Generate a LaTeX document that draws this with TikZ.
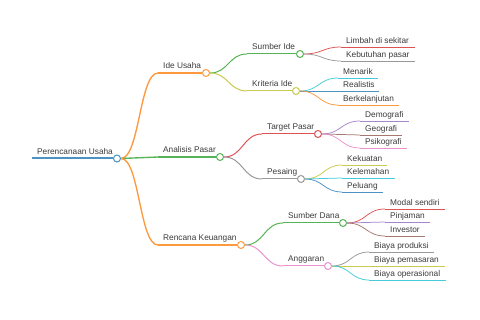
\documentclass[tikz,border=0pt]{standalone}
\usepackage{fontspec}
\setmainfont{Liberation Sans}
\usetikzlibrary{calc}

\begin{document}
\begin{tikzpicture}[
    x=1pt, y=-1pt,
    every node/.style={font=\fontsize{8.3}{10}\selectfont},
]

% ---------------------------------------------------------------- colours
\definecolor{cblue}{HTML}{4C92C3}
\definecolor{corange}{HTML}{FF993E}
\definecolor{cgreen}{HTML}{56B356}
\definecolor{cred}{HTML}{DE5253}
\definecolor{cpurple}{HTML}{A985CA}
\definecolor{cbrown}{HTML}{A3786F}
\definecolor{cpink}{HTML}{E992CE}
\definecolor{cgrey}{HTML}{999999}
\definecolor{colive}{HTML}{C9CA4E}
\definecolor{ccyan}{HTML}{45CBD9}
\definecolor{textcolor}{HTML}{3A3A3A}

% ---------------------------------------------------------------- styles
\tikzset{
    txt/.style={anchor=base west, inner sep=0pt, text=textcolor},
    hub/.style={
        circle, minimum size=7pt, inner sep=0pt,
        draw, fill=white, line width=1pt,
    },
}

% picture is 480 x 320, one unit per pixel, y going down
\useasboundingbox (0,0) rectangle (480,320);

% ---------------------------------------------------------------- the root
\coordinate (root-s) at (32,158.5);
\node[hub, draw=cblue] (root) at (117,158.5) {};
\node[txt] (root-t) at (37,155) {Perencanaan Usaha};
\draw[cblue, line width=2pt] (root-s) -- (root.west);

% ---------------------------------------------------------------- first level
\foreach \n/\t/\y/\c/\col in {ide/Ide Usaha/73/206/corange,
                              analisis/Analisis Pasar/157/220/cgreen,
                              rencana/Rencana Keuangan/245/241/corange} {
    \coordinate (\n-s) at (158,\y);
    \node[hub, draw=\col] (\n) at (\c,\y) {};
    \node[txt] (\n-t) at (163,\y-4) {\t};
    \draw[\col, line width=1.35pt] (\n-s) -- (\n.west);
    \coordinate (\n-m) at ($(root.east)!0.5!(\n-s)$);
    \draw[\col, line width=1.35pt] (root.east)
        .. controls (\n-m |- root.east) and (\n-m |- \n-s) .. (\n-s);
}

% ---------------------------------------------------------------- second level
\foreach \p/\n/\t/\x/\y/\c/\col in {
        ide/sumberide/Sumber Ide/247/54/300/cgreen,
        ide/kriteria/Kriteria Ide/247/91/296/colive,
        analisis/target/Target Pasar/262/134/318/cred,
        analisis/pesaing/Pesaing/262/179/301/cgrey,
        rencana/sumberdana/Sumber Dana/283/223/343/cgreen,
        rencana/anggaran/Anggaran/283/266/328/cpink} {
    \coordinate (\n-s) at (\x,\y);
    \node[hub, draw=\col] (\n) at (\c,\y) {};
    \node[txt] (\n-t) at (\x+5,\y-4) {\t};
    \draw[\col, line width=1pt] (\n-s) -- (\n.west);
    \coordinate (\n-m) at ($(\p.east)!0.5!(\n-s)$);
    \draw[\col, line width=1pt] (\p.east)
        .. controls (\n-m |- \p.east) and (\n-m |- \n-s) .. (\n-s);
}

% ---------------------------------------------------------------- the leaves
\foreach \p/\n/\t/\x/\y/\e/\col in {
        sumberide/limbah/Limbah di sekitar/341/47/415/cred,
        sumberide/kebutuhan/Kebutuhan pasar/341/61/415/cgrey,
        kriteria/menarik/Menarik/338/78/378/ccyan,
        kriteria/realistis/Realistis/338/91/379/cblue,
        kriteria/berlanjut/Berkelanjutan/338/105/399/corange,
        target/demografi/Demografi/360/121/409/cpurple,
        target/geografi/Geografi/360/135/402/cbrown,
        target/psikografi/Psikografi/360/148/407/cpink,
        pesaing/kekuatan/Kekuatan/342/165/387/colive,
        pesaing/kelemahan/Kelemahan/342/178/395/ccyan,
        pesaing/peluang/Peluang/342/192/383/cblue,
        sumberdana/modal/Modal sendiri/385/209/445/cred,
        sumberdana/pinjaman/Pinjaman/385/222/430/cpurple,
        sumberdana/investor/Investor/385/236/425/cbrown,
        anggaran/produksi/Biaya produksi/369/252/434/cgrey,
        anggaran/pemasaran/Biaya pemasaran/369/266/445/colive,
        anggaran/operasional/Biaya operasional/369/280/446/ccyan} {
    \coordinate (\n-s) at (\x,\y);
    \coordinate (\n-e) at (\e,\y);
    \node[txt] (\n) at (\x+5,\y-3.5) {\t};
    \draw[\col, line width=0.75pt] (\n-s) -- (\n-e);
    \coordinate (\n-m) at ($(\p.east)!0.5!(\n-s)$);
    \draw[\col, line width=0.75pt] (\p.east)
        .. controls (\n-m |- \p.east) and (\n-m |- \n-s) .. (\n-s);
}

\end{tikzpicture}
\end{document}
